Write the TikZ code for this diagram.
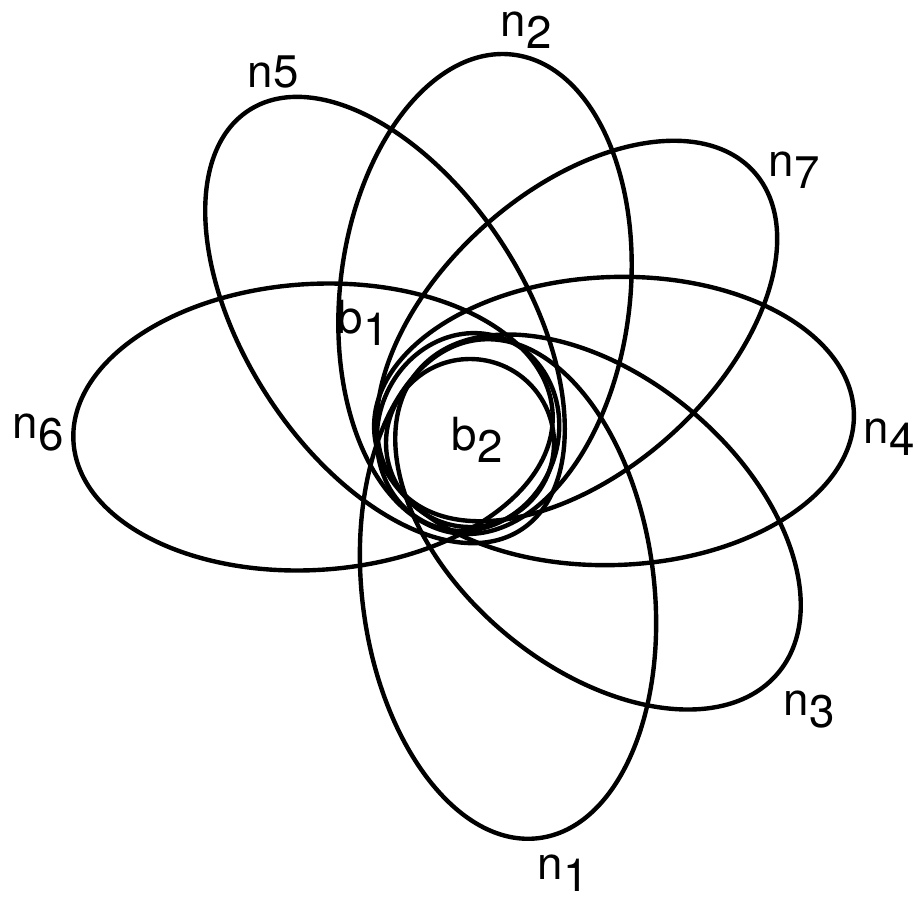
\documentclass[tikz,border=0pt]{standalone}
\usepackage{fontspec}
\setsansfont{TeX Gyre Heros}
\usetikzlibrary{positioning}

\newcommand{\lbl}[2]{#1\raisebox{-0.5ex}{#2}}

\begin{document}
\begin{tikzpicture}[x=0.1mm, y=-0.1mm]
  \tikzstyle{petal}=[line width=1.25pt]
  \tikzstyle{tag}=[font=\fontsize{13}{15}\selectfont\sffamily, inner sep=1pt]
  \useasboundingbox (0,0) rectangle (918,900);
  % the seven ellipses: centre, radii, tilt
  \foreach \cx/\cy/\ra/\rb/\tilt in {508/589/251/146/-83, 485/294/241/145/83.4,
      598/522/235/145/-40, 614/421/240/144/2, 385/320/250/140/123,
      313/427/240/143/3.5, 577/331/238/140/42}
    \draw[petal, rotate around={\tilt:(\cx,\cy)}] (\cx,\cy) ellipse [x radius=\ra, y radius=\rb];
  % inner curves
  \draw[petal, rotate around={-20:(468,432)}] (468,432) ellipse [x radius=90, y radius=100];
  \draw[petal] (470,443) circle [radius=84];
  % labels
  \node[tag] (n1) at (563,873) {\lbl{n}{1}};
  \node[tag] (n2) at (526,30) {\lbl{n}{2}};
  \node[tag] (n3) at (809,710) {\lbl{n}{3}};
  \node[tag] (n4) at (889,437) {\lbl{n}{4}};
  \node[tag] (n5) at (273,72) {n5};
  \node[tag] (n6) at (38,433) {\lbl{n}{6}};
  \node[tag] (n7) at (794,170) {\lbl{n}{7}};
  \node[tag] (b1) at (363,323) {\lbl{b}{1}};
  \node[tag] (b2) at (477,440) {\lbl{b}{2}};
\end{tikzpicture}
\end{document}
